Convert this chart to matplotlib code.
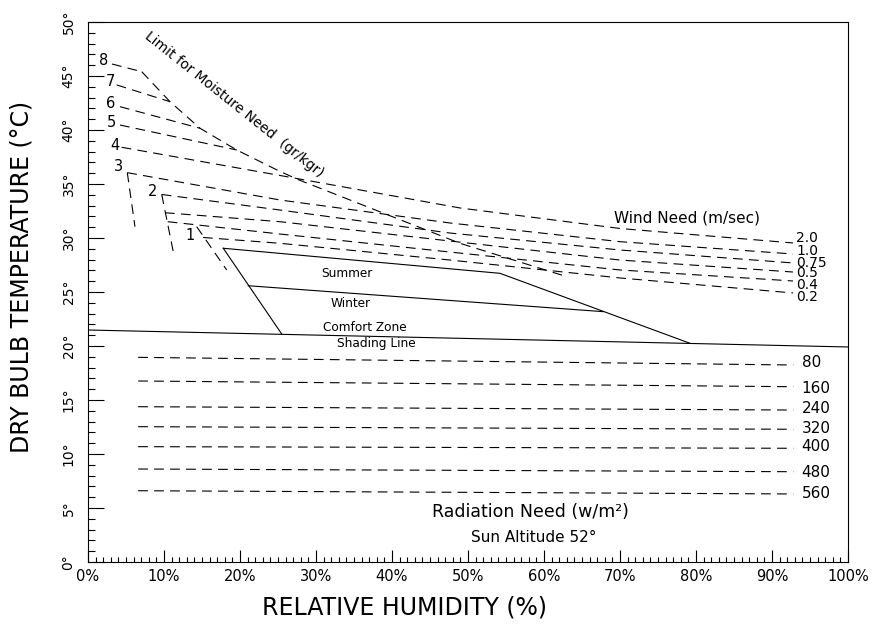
import matplotlib
matplotlib.use("Agg")
import matplotlib.pyplot as plt
import numpy as np

plt.rcParams['font.family'] = ['DejaVu Sans']
plt.rcParams['lines.scale_dashes'] = False

# ---------------- data ----------------
# Moisture need lines (gr/kgr) 5..8 : start point and end on the limit curve
moist_labels = ["8", "7", "6", "5"]
moist_rh = [[3.16, 7.07], [3.78, 10.79], [4.21, 14.74], [4.21, 19.57]]
moist_t = [[46.11, 45.40], [44.17, 42.62], [42.16, 40.16], [40.46, 38.15]]

# Moisture need lines 1..3 (short steep segments)
moist_low_rh = [[5.17, 6.18], [9.70, 11.22], [14.30, 18.25]]
moist_low_t = [[36.05, 31.05], [34.03, 28.73], [31.05, 27.04]]

# Label positions for moisture numbers
moist_num = ["8", "7", "6", "5", "4", "3", "2", "1"]
moist_num_rh = [2.01, 2.89, 2.99, 3.12, 3.55, 3.99, 8.51, 13.42]
moist_num_t = [46.42, 44.47, 42.47, 40.68, 38.61, 36.60, 34.29, 30.19]

# Limit for moisture need curve
limit_rh = [7.07, 10.79, 14.74, 19.57, 24.87, 27.46, 48.95, 62.99]
limit_t = [45.40, 42.62, 40.16, 38.15, 36.30, 35.46, 29.51, 26.42]

# Wind need lines (m/sec)
wind_labels = ["2.0", "1.0", "0.75", "0.5", "0.4", "0.2"]
wind_rh = [[4.43, 25.26, 48.95, 70.0, 92.76],
           [5.17, 25.26, 47.63, 70.0, 92.76],
           [9.70, 25.26, 47.63, 70.0, 92.76],
           [10.13, 25.26, 47.63, 70.0, 92.76],
           [10.49, 25.26, 47.63, 70.0, 92.76],
           [15.13, 25.26, 47.63, 70.0, 92.76]]
wind_t = [[38.40, 35.79, 32.78, 30.88, 29.54],
          [36.05, 33.52, 31.39, 29.66, 28.52],
          [34.03, 32.59, 30.46, 28.89, 27.69],
          [32.34, 31.51, 29.72, 27.96, 26.85],
          [31.51, 30.37, 28.70, 27.04, 26.02],
          [30.05, 29.51, 27.96, 26.30, 24.91]]
wind_label_t = [30.0, 28.8, 27.7, 26.76, 25.65, 24.54]

# Comfort zone
summer_rh = [17.80, 54.21, 79.21]
summer_t = [29.05, 26.73, 20.25]
left_rh = [17.80, 25.49]
left_t = [29.05, 21.11]
winter_rh = [21.09, 67.80]
winter_t = [25.58, 23.18]

# Shading line
shade_rh = [0, 100]
shade_t = [21.48, 19.91]

# Radiation need lines (w/m2)
rad_labels = ["80", "160", "240", "320", "400", "480", "560"]
rad_rh = [6.6, 92.8]
rad_t_left = [18.95, 16.76, 14.38, 12.53, 10.68, 8.61, 6.60]
rad_t_right = [18.24, 16.23, 14.07, 12.29, 10.53, 8.36, 6.30]
rad_label_t = [18.5, 16.1, 14.17, 12.4, 10.65, 8.33, 6.3]

x_ticks = list(range(0, 101, 10))
x_ticklabels = [f"{v}%" for v in x_ticks]
y_ticks = list(range(0, 51, 5))
y_ticklabels = [f"{v}°" for v in y_ticks]

# ---------------- figure ----------------
W, H = 882, 628
fig = plt.figure(figsize=(W / 100, H / 100), dpi=100)
ax = fig.add_axes([88 / W, (H - 562) / H, (848 - 88) / W, (562 - 22) / H])
ax.set_xlim(0, 100)
ax.set_ylim(0, 50)

lw = 0.8
dash = (0, (7.0, 4.5))
kw_d = dict(color="black", lw=lw, linestyle=dash)
kw_s = dict(color="black", lw=lw)

for rh, t in zip(moist_rh, moist_t):
    ax.plot(rh, t, **kw_d)
for rh, t in zip(moist_low_rh, moist_low_t):
    ax.plot(rh, t, **kw_d)
ax.plot(limit_rh, limit_t, **kw_d)
for rh, t in zip(wind_rh, wind_t):
    ax.plot(rh, t, **kw_d)
for lab, t in zip(wind_labels, wind_label_t):
    ax.text(93.2, t, lab, ha="left", va="center", fontsize=10)

for lab, rh, t in zip(moist_num, moist_num_rh, moist_num_t):
    ax.text(rh, t, lab, ha="center", va="center", fontsize=10.5)

ax.plot(summer_rh, summer_t, **kw_s)
ax.plot(left_rh, left_t, **kw_s)
ax.plot(winter_rh, winter_t, **kw_s)
ax.plot(shade_rh, shade_t, **kw_s)

for lab, tl, tr, tlab in zip(rad_labels, rad_t_left, rad_t_right, rad_label_t):
    ax.plot(rad_rh, [tl, tr], **kw_d)
    ax.text(93.9, tlab, lab, ha="left", va="center", fontsize=11)

ax.text(19.2, 42.4, "Limit for Moisture Need  (gr/kgr)", rotation=-38.6,
        rotation_mode="anchor", ha="center", va="center", fontsize=10)
ax.text(78.8, 31.85, "Wind Need (m/sec)", ha="center", va="center", fontsize=11)
ax.text(34.0, 26.67, "Summer", ha="center", va="center", fontsize=8.7)
ax.text(34.5, 23.9, "Winter", ha="center", va="center", fontsize=8.7)
ax.text(36.4, 21.7, "Comfort Zone", ha="center", va="center", fontsize=8.7)
ax.text(37.9, 20.2, "Shading Line", ha="center", va="center", fontsize=8.7)
ax.text(58.2, 4.63, "Radiation Need (w/m²)", ha="center", va="center", fontsize=12.5)
ax.text(58.6, 2.31, "Sun Altitude 52°", ha="center", va="center", fontsize=11)

# ticks
ax.set_xticks(x_ticks)
ax.set_xticklabels(x_ticklabels, fontsize=10.5)
ax.set_xticks(np.arange(0, 101, 1), minor=True)
ax.set_yticks(y_ticks)
ax.set_yticklabels(y_ticklabels, fontsize=10, rotation=90, va="center")
ax.set_yticks(np.arange(0, 51, 1), minor=True)
ax.tick_params(axis="x", which="major", direction="in", length=8.6, width=0.8, pad=5)
ax.tick_params(axis="x", which="minor", direction="in", length=3.6, width=0.8)
ax.tick_params(axis="y", which="major", direction="in", length=11.5, width=0.8, pad=9)
ax.tick_params(axis="y", which="minor", direction="in", length=5, width=0.8)
for sp in ax.spines.values():
    sp.set_linewidth(0.8)

fig.text(404 / W, 1 - 608 / H, "RELATIVE HUMIDITY (%)", ha="center", va="center", fontsize=17)
fig.text(22 / W, 1 - 277 / H, "DRY BULB TEMPERATURE (°C)", ha="center", va="center",
         fontsize=17, rotation=90)

fig.savefig("out.png", dpi=100)
